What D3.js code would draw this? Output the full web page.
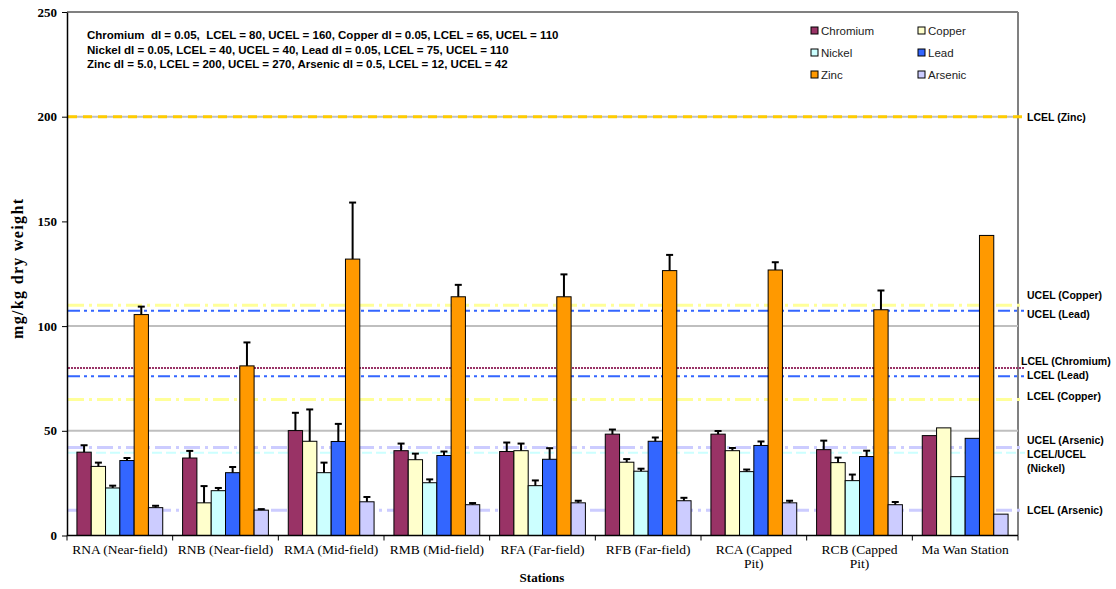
<!DOCTYPE html>
<html><head><meta charset="utf-8">
<script src="https://cdn.jsdelivr.net/npm/d3@7"></script>
<style>body{margin:0;background:#fff}svg{display:block}</style>
</head><body>
<svg id="c" width="1116" height="589"></svg>
<script>
const stations = ["RNA (Near-field)","RNB (Near-field)","RMA (Mid-field)","RMB (Mid-field)","RFA (Far-field)","RFB (Far-field)","RCA (Capped Pit)","RCB (Capped Pit)","Ma Wan Station"];
const metals = ["Chromium","Copper","Nickel","Lead","Zinc","Arsenic"];
const chromium = [39.8,37.0,50.1,40.5,40.1,48.4,48.4,41.0,47.7];
const copper   = [33.0,15.6,45.0,36.2,40.5,35.0,40.5,34.8,51.4];
const nickel   = [22.7,21.4,30.0,25.2,23.8,30.7,30.5,26.2,28.1];
const lead     = [35.8,30.0,44.9,38.2,36.4,45.0,43.0,37.7,46.4];
const zinc     = [105.5,81.0,132.0,114.0,114.0,126.5,126.8,107.8,143.3];
const arsenic  = [13.3,12.1,16.1,14.7,15.6,16.6,15.6,14.7,10.2];
const errChromium = [3.3,3.4,8.5,3.4,4.3,2.2,1.5,4.3,null];
const errCopper   = [1.8,8.0,15.2,2.9,3.4,1.5,1.3,2.4,null];
const errNickel   = [1.1,1.3,4.8,1.6,2.5,1.2,1.0,2.9,null];
const errLead     = [1.2,2.7,8.4,1.9,5.3,1.8,1.9,2.8,null];
const errZinc     = [3.8,11.2,27.0,5.7,10.7,7.5,3.7,9.2,null];
const errArsenic  = [0.9,0.5,2.3,0.8,1.0,1.4,1.0,1.3,null];
const yTicks = [0,50,100,150,200,250];
const gridValues = [50,100,200];
const refValues = [200,110,107.3,80,76,65,42,39.5,12];
const refLabels = [["LCEL (Zinc)"],["UCEL (Copper)"],["UCEL (Lead)"],["LCEL (Chromium)"],["LCEL (Lead)"],["LCEL (Copper)"],["UCEL (Arsenic)"],["LCEL/UCEL","(Nickel)"],["LCEL (Arsenic)"]];
const notes = ["Chromium  dl = 0.05,  LCEL = 80, UCEL = 160, Copper dl = 0.05, LCEL = 65, UCEL = 110",
               "Nickel dl = 0.05, LCEL = 40, UCEL = 40, Lead dl = 0.05, LCEL = 75, UCEL = 110",
               "Zinc dl = 5.0, LCEL = 200, UCEL = 270, Arsenic dl = 0.5, LCEL = 12, UCEL = 42"];

const values = [chromium,copper,nickel,lead,zinc,arsenic];
const errs = [errChromium,errCopper,errNickel,errLead,errZinc,errArsenic];
const colors = ["#993366","#FFFFCC","#CCFFFF","#3366FF","#FF9900","#CCCCFF"];

const svg = d3.select("#c");
const L=67,R=1018,T=12,B=535.5;
const x = d3.scaleBand().domain(stations).range([L,R]).paddingInner(0).paddingOuter(0);
const y = d3.scaleLinear().domain([0,250]).range([B,T]);
const bw = 14.3;
const off = (x.bandwidth()-6*bw)/2;
const serif = "'Liberation Serif','DejaVu Serif',serif";
const sans = "'Liberation Sans',Arial,sans-serif";

svg.append("line").attr("x1",L).attr("x2",R).attr("y1",T).attr("y2",T).attr("stroke","#808080").attr("stroke-width",2);
svg.append("line").attr("x1",R).attr("x2",R).attr("y1",T).attr("y2",B).attr("stroke","#808080").attr("stroke-width",2);
svg.selectAll(".grid").data(gridValues).join("line").attr("x1",L).attr("x2",R)
  .attr("y1",d=>y(d)).attr("y2",d=>y(d)).attr("stroke","#BFBFBF").attr("stroke-width",2);

const refStyles = [
 {c:"#FFCC00",w:3,d:"9,6"},
 {c:"#FFFF99",w:3,d:"16,5,3,5"},
 {c:"#3366FF",w:2,d:"12,4,3,4,3,4"},
 {c:"#993366",w:2,d:"2,1"},
 {c:"#3366FF",w:2,d:"12,4,3,4,3,4"},
 {c:"#FFFF99",w:3,d:"16,5,3,5"},
 {c:"#CCCCFF",w:3,d:"16,5,3,5"},
 {c:"#CCFFFF",w:2,d:"10,4"},
 {c:"#CCCCFF",w:3,d:"16,5,3,5"}
];
svg.selectAll(".ref").data(refValues).join("line")
  .attr("x1",L+1).attr("x2",1025).attr("y1",d=>y(d)).attr("y2",d=>y(d))
  .attr("stroke",(d,i)=>refStyles[i].c).attr("stroke-width",(d,i)=>refStyles[i].w)
  .attr("stroke-dasharray",(d,i)=>refStyles[i].d);

metals.forEach((m,mi)=>{
  const g = svg.append("g");
  g.selectAll("rect").data(stations).join("rect")
    .attr("x",(s)=>x(s)+off+mi*bw).attr("width",bw)
    .attr("y",(s,i)=>y(values[mi][i])).attr("height",(s,i)=>B-y(values[mi][i]))
    .attr("fill",colors[mi]).attr("stroke","#000").attr("stroke-width",1);
  stations.forEach((s,i)=>{
    const e = errs[mi][i]; if(e==null) return;
    const cx = x(s)+off+mi*bw+bw/2;
    g.append("line").attr("x1",cx).attr("x2",cx).attr("y1",y(values[mi][i])).attr("y2",y(values[mi][i]+e))
      .attr("stroke","#000").attr("stroke-width",2);
    g.append("line").attr("x1",cx-3.5).attr("x2",cx+3.5).attr("y1",y(values[mi][i]+e)).attr("y2",y(values[mi][i]+e))
      .attr("stroke","#000").attr("stroke-width",2);
  });
});

const ya = d3.axisLeft(y).tickValues(yTicks).tickSize(5).tickSizeOuter(0);
const yg = svg.append("g").attr("transform",`translate(${L},0)`).call(ya);
yg.select(".domain").attr("stroke","#000").attr("stroke-width",1.5);
yg.selectAll(".tick line").attr("stroke","#000");
yg.selectAll(".tick text").attr("font-family",serif).attr("font-size",13).attr("font-weight","bold").attr("fill","#000").attr("x",-10);

const xg = svg.append("g").attr("transform",`translate(0,${B})`);
xg.append("line").attr("x1",L).attr("x2",R).attr("stroke","#000").attr("stroke-width",1.5);
const bounds = stations.map(s=>x(s)).concat([R]);
xg.selectAll(".xt").data(bounds).join("line").attr("x1",d=>d).attr("x2",d=>d).attr("y1",0).attr("y2",5).attr("stroke","#000");
const lab = xg.selectAll(".xl").data(stations).join("text")
  .attr("x",s=>x(s)+x.bandwidth()/2).attr("y",18)
  .attr("text-anchor","middle").attr("font-family",serif).attr("font-size",13.5).attr("fill","#000");
lab.each(function(s){
  const t = d3.select(this);
  const m = s.match(/^(RC[AB] \(Capped) (Pit\))$/);
  const lines = m ? [m[1],m[2]] : [s];
  lines.forEach((ln,k)=>t.append("tspan").attr("x",x(s)+x.bandwidth()/2).attr("dy",k?14:0).text(ln));
});

svg.append("text").attr("x",542).attr("y",582).attr("text-anchor","middle").attr("font-family",serif)
  .attr("font-size",13).attr("font-weight","bold").text("Stations");
svg.append("text").attr("transform","translate(23,269) rotate(-90)").attr("text-anchor","middle").attr("font-family",serif)
  .attr("font-size",16).attr("font-weight","bold").attr("textLength",140).attr("lengthAdjust","spacing").text("mg/kg dry weight");

svg.selectAll(".note").data(notes).join("text").attr("x",87).attr("y",(d,i)=>39+i*14.7)
  .attr("font-family",sans).attr("font-size",11.5).attr("font-weight","bold").attr("fill","#000").style("white-space","pre").text(d=>d);

const lx=[811,918], ly=[31,53,75];
metals.forEach((m,i)=>{
  const cx = lx[i%2], cy = ly[Math.floor(i/2)];
  svg.append("rect").attr("x",cx).attr("y",cy-4).attr("width",7).attr("height",7).attr("fill",colors[i]).attr("stroke","#000");
  svg.append("text").attr("x",cx+10).attr("y",cy+4).attr("font-family",sans).attr("font-size",11.5).attr("fill","#222").text(m);
});

const labY = [121,299,318,365,379,400,444,458,514];
const labX = [1027,1027,1027,1021,1027,1027,1027,1027,1027];
refLabels.forEach((ls,i)=>{
  const t = svg.append("text").attr("x",labX[i]).attr("y",labY[i]).attr("font-family",sans).attr("font-size",10.5).attr("font-weight","bold").attr("fill","#000");
  ls.forEach((l,k)=>t.append("tspan").attr("x",labX[i]).attr("dy",k?14:0).text(l));
});
</script>
</body></html>
